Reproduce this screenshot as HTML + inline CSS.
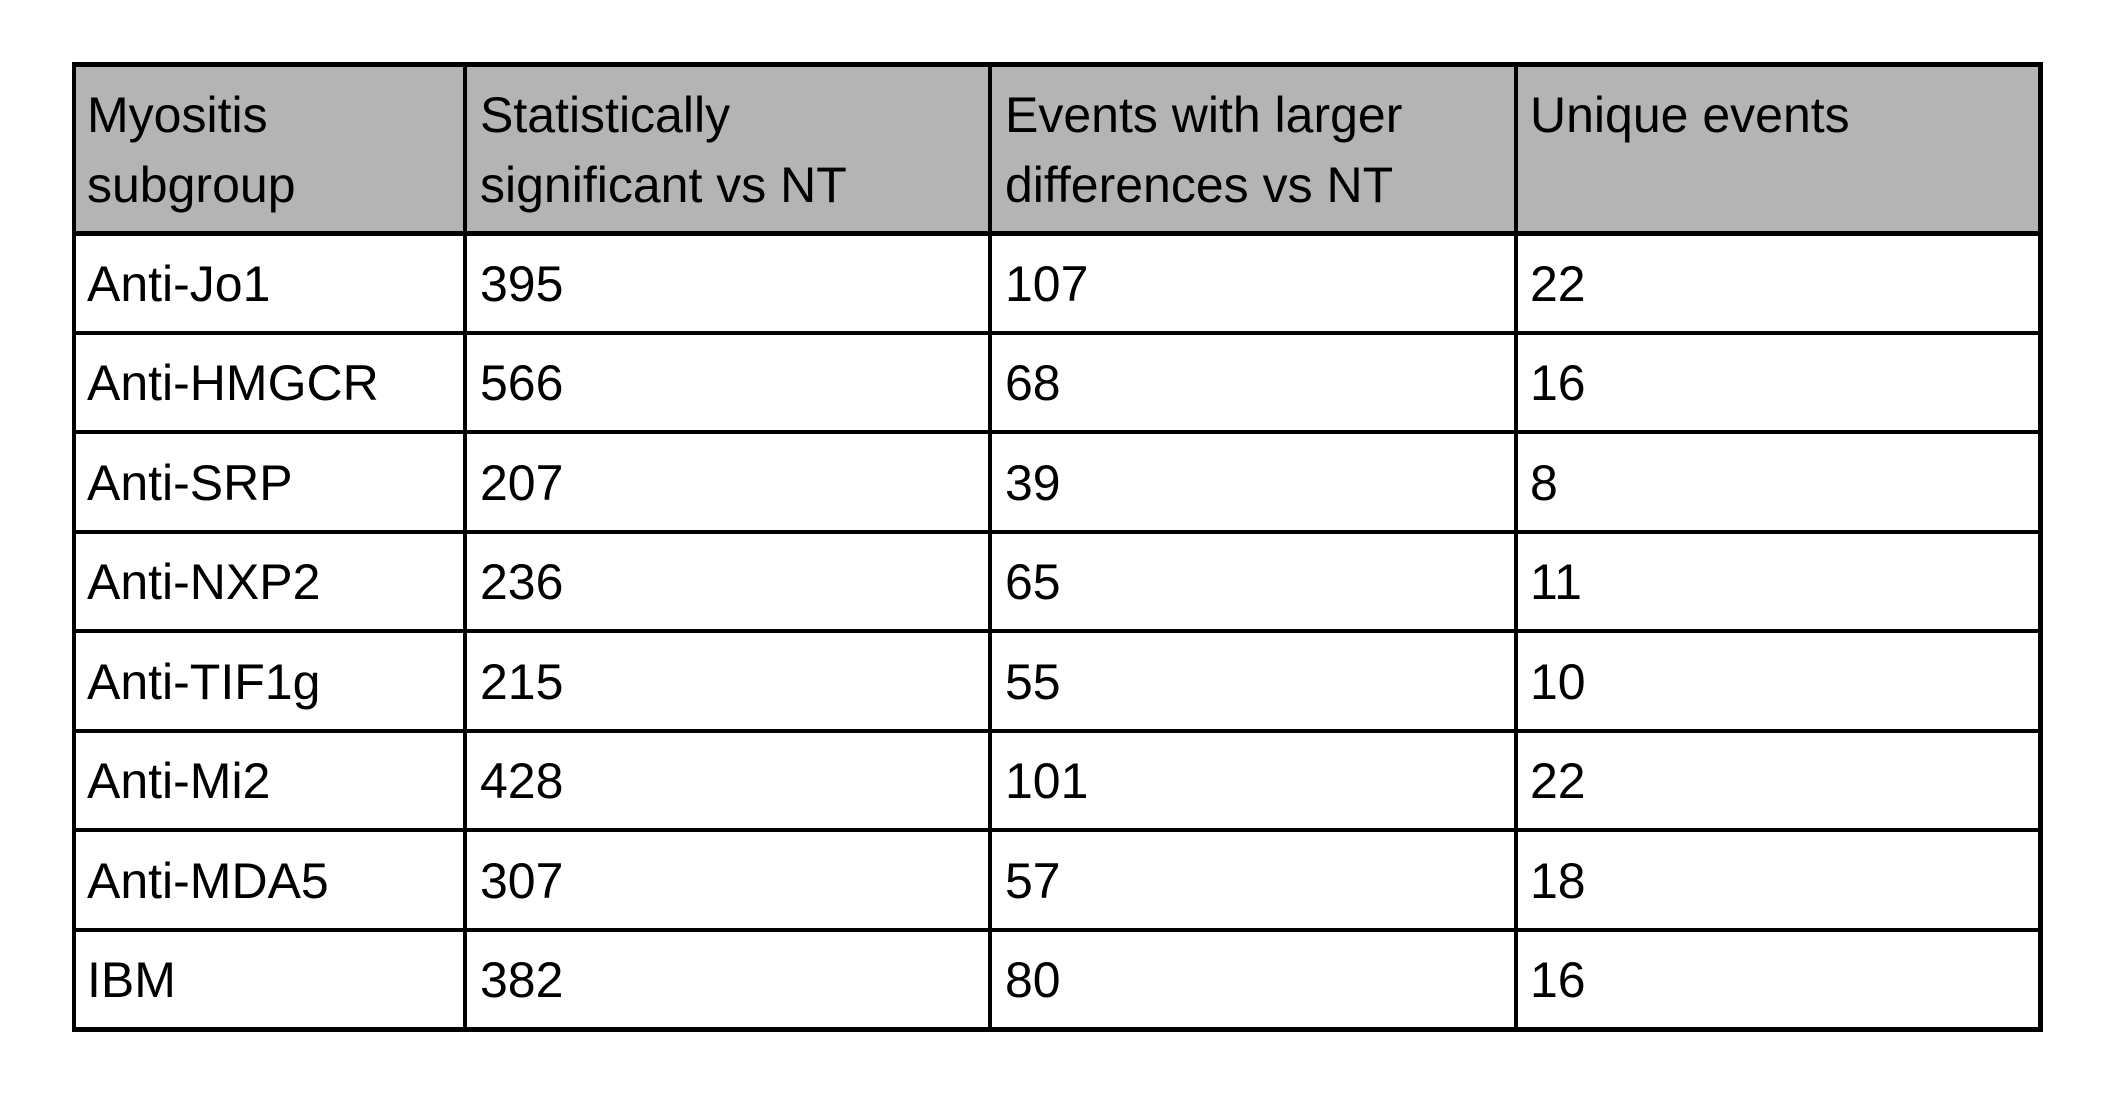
<!DOCTYPE html>
<html><head><style>
body{margin:0;background:#fff;width:2107px;height:1095px;overflow:hidden;position:relative;font-family:"Liberation Sans",sans-serif;color:#000}
.h{position:absolute;left:73px;top:63px;width:1967px;height:170px;background:#b3b4b3}
.l{position:absolute;background:#000}
.t{position:absolute;font-size:50px;line-height:70px;white-space:nowrap}
</style></head><body>
<div class="h"></div>
<div class="l" style="left:72px;top:62px;width:1971px;height:5px"></div>
<div class="l" style="left:72px;top:231px;width:1971px;height:5px"></div>
<div class="l" style="left:72px;top:331px;width:1971px;height:4px"></div>
<div class="l" style="left:72px;top:430px;width:1971px;height:4px"></div>
<div class="l" style="left:72px;top:530px;width:1971px;height:4px"></div>
<div class="l" style="left:72px;top:629px;width:1971px;height:4px"></div>
<div class="l" style="left:72px;top:729px;width:1971px;height:4px"></div>
<div class="l" style="left:72px;top:828px;width:1971px;height:4px"></div>
<div class="l" style="left:72px;top:928px;width:1971px;height:4px"></div>
<div class="l" style="left:72px;top:1027px;width:1971px;height:5px"></div>
<div class="l" style="left:72px;top:62px;width:4px;height:970px"></div>
<div class="l" style="left:463px;top:62px;width:4px;height:970px"></div>
<div class="l" style="left:988px;top:62px;width:4px;height:970px"></div>
<div class="l" style="left:1514px;top:62px;width:4px;height:970px"></div>
<div class="l" style="left:2038px;top:62px;width:5px;height:970px"></div>

<div class="t" style="left:87px;top:80px">Myositis<br>subgroup</div>
<div class="t" style="left:480px;top:80px">Statistically<br>significant vs NT</div>
<div class="t" style="left:1005px;top:80px">Events with larger<br>differences vs NT</div>
<div class="t" style="left:1530px;top:80px">Unique events</div>

<div class="t" style="left:87px;top:249px">Anti-Jo1</div><div class="t" style="left:480px;top:249px">395</div><div class="t" style="left:1005px;top:249px">107</div><div class="t" style="left:1530px;top:249px">22</div>
<div class="t" style="left:87px;top:348px">Anti-HMGCR</div><div class="t" style="left:480px;top:348px">566</div><div class="t" style="left:1005px;top:348px">68</div><div class="t" style="left:1530px;top:348px">16</div>
<div class="t" style="left:87px;top:448px">Anti-SRP</div><div class="t" style="left:480px;top:448px">207</div><div class="t" style="left:1005px;top:448px">39</div><div class="t" style="left:1530px;top:448px">8</div>
<div class="t" style="left:87px;top:547px">Anti-NXP2</div><div class="t" style="left:480px;top:547px">236</div><div class="t" style="left:1005px;top:547px">65</div><div class="t" style="left:1530px;top:547px">11</div>
<div class="t" style="left:87px;top:647px">Anti-TIF1g</div><div class="t" style="left:480px;top:647px">215</div><div class="t" style="left:1005px;top:647px">55</div><div class="t" style="left:1530px;top:647px">10</div>
<div class="t" style="left:87px;top:746px">Anti-Mi2</div><div class="t" style="left:480px;top:746px">428</div><div class="t" style="left:1005px;top:746px">101</div><div class="t" style="left:1530px;top:746px">22</div>
<div class="t" style="left:87px;top:846px">Anti-MDA5</div><div class="t" style="left:480px;top:846px">307</div><div class="t" style="left:1005px;top:846px">57</div><div class="t" style="left:1530px;top:846px">18</div>
<div class="t" style="left:87px;top:945px">IBM</div><div class="t" style="left:480px;top:945px">382</div><div class="t" style="left:1005px;top:945px">80</div><div class="t" style="left:1530px;top:945px">16</div>
</body></html>
